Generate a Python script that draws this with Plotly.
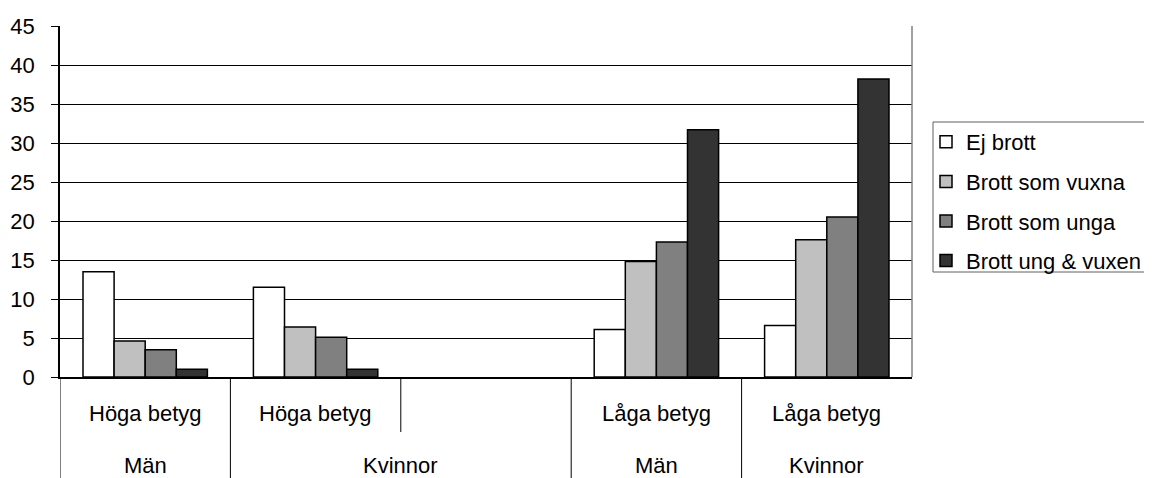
import plotly.graph_objects as go

# ---- data ----
categories = ["c1", "c2", "c3", "c4", "c5"]
inner_labels = ["Höga betyg", "Höga betyg", "", "Låga betyg", "Låga betyg"]
outer_labels = ["Män", "Kvinnor", "Män", "Kvinnor"]
outer_spans = [(0, 0), (1, 2), (3, 3), (4, 4)]
series_names = ["Ej brott", "Brott som vuxna", "Brott som unga", "Brott ung & vuxen"]
ej_brott = [13.5, 11.5, None, 6.1, 6.6]
brott_vuxna = [4.6, 6.4, None, 14.8, 17.6]
brott_unga = [3.5, 5.1, None, 17.3, 20.5]
brott_ung_vuxen = [1.0, 1.0, None, 31.7, 38.2]
series_values = [ej_brott, brott_vuxna, brott_unga, brott_ung_vuxen]
colors = ["#FFFFFF", "#C0C0C0", "#808080", "#333333"]
y_ticks = list(range(0, 50, 5))

FONT = "Liberation Sans, Arial, sans-serif"
FS = 22
fig = go.Figure()
for name, vals, col in zip(series_names, series_values, colors):
    fig.add_trace(go.Bar(
        x=categories, y=vals, name=name, legendgroup=name,
        marker=dict(color=col, line=dict(color="#000000", width=1.5)),
    ))

# page body has an 8px margin: work in window pixels, subtract offset
OFF = 8
WIN_W, WIN_H = 1152, 478
W, H = WIN_W - OFF, WIN_H - OFF
L, R, T, B = 60, 912, 26, 377  # plot area in window pixels
ph = B - T

def py(ypix):
    return (B - ypix) / ph

def px(xpix):
    return (xpix - L) / (R - L)

shapes = []
shapes.append(dict(type="line", xref="paper", yref="paper", x0=1, x1=1, y0=0, y1=1,
                   line=dict(color="#808080", width=1.5)))
long_div = [-0.5, 0.5, 2.5, 3.5]
short_div = [1.5]
for xd in long_div:
    shapes.append(dict(type="line", xref="x", yref="paper", x0=xd, x1=xd, y0=0, y1=py(478),
                       line=dict(color="#000000", width=1)))
for xd in short_div:
    shapes.append(dict(type="line", xref="x", yref="paper", x0=xd, x1=xd, y0=0, y1=py(432),
                       line=dict(color="#000000", width=1)))
shapes.append(dict(type="rect", xref="paper", yref="paper",
                   x0=px(933), x1=px(1200), y0=py(272), y1=py(122),
                   line=dict(color="#606060", width=1), fillcolor="rgba(0,0,0,0)"))

annotations = []
for i, lab in enumerate(inner_labels):
    if lab:
        annotations.append(dict(x=i, y=py(413), xref="x", yref="paper", text=lab,
                                showarrow=False, xanchor="center", yanchor="middle",
                                font=dict(family=FONT, size=FS, color="#000000")))
for lab, (a, b) in zip(outer_labels, outer_spans):
    annotations.append(dict(x=(a + b) / 2, y=py(465), xref="x", yref="paper", text=lab,
                            showarrow=False, xanchor="center", yanchor="middle",
                            font=dict(family=FONT, size=FS, color="#000000")))

fig.update_layout(
    width=W, height=H,
    margin=dict(l=L - OFF, r=WIN_W - R, t=T - OFF, b=WIN_H - B, pad=0, autoexpand=False),
    paper_bgcolor="#FFFFFF", plot_bgcolor="#FFFFFF",
    barmode="group", bargap=0.27, bargroupgap=0,
    font=dict(family=FONT, size=FS, color="#000000"),
    xaxis=dict(showticklabels=False, ticks="", showgrid=False, showline=True,
               linecolor="#000000", linewidth=1.5, zeroline=False, range=[-0.5, 4.5],
               fixedrange=True, automargin=False),
    yaxis=dict(range=[0, 45], tickvals=y_ticks, ticks="outside", ticklen=7,
               tickcolor="#000000", tickwidth=1, showline=True, linecolor="#000000",
               linewidth=1.5, showgrid=True, gridcolor="#000000", gridwidth=1,
               zeroline=False, ticklabelstandoff=12, automargin=False,
               tickfont=dict(family=FONT, size=FS, color="#000000")),
    legend=dict(x=px(926), y=py(121), xanchor="left", yanchor="top",
                bgcolor="rgba(0,0,0,0)", borderwidth=0, tracegroupgap=8,
                font=dict(family=FONT, size=FS, color="#000000")),
    shapes=shapes, annotations=annotations, showlegend=True,
)

fig.write_html("out.html")
